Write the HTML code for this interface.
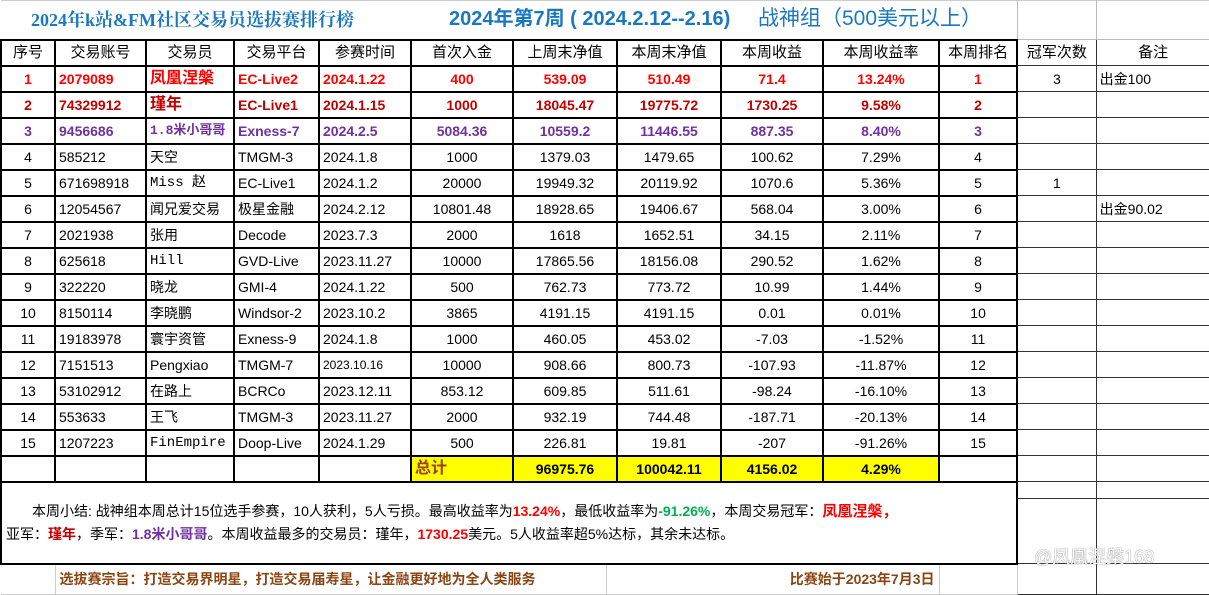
<!DOCTYPE html>
<html><head><meta charset="utf-8">
<style>
*{margin:0;padding:0;box-sizing:border-box}
body{width:1209px;height:595px;background:#fff;overflow:hidden;font-family:"Liberation Sans","Noto Sans CJK SC",sans-serif;font-size:14px;color:#000;position:relative}
table{border-collapse:collapse;table-layout:fixed;position:absolute;left:0;top:0;width:1209px}
td{height:26px;border:2px solid #000;white-space:nowrap;overflow:hidden;padding:0 3px;text-align:center;vertical-align:middle;line-height:20px}
td.l{text-align:left}
td.t{border:1px solid #333}
tr.title td{height:39px;border:none}
tr.title td.t{border:1px solid #bbb;border-top:1px solid #ccc}
.h td{font-size:15px}
.r1 td{color:#f00;font-weight:bold}
.r2 td{color:#c00000;font-weight:bold}
.r3 td{color:#7030a0;font-weight:bold}
.r1 td.t,.r2 td.t,.r3 td.t{color:#000;font-weight:normal}
.nm{font-family:"Liberation Mono","Noto Sans CJK SC",monospace}
.y{background:#ff0;font-weight:bold}
.cj{font-size:16px}
</style></head><body>
<table>
<colgroup><col style="width:54px"><col style="width:91px"><col style="width:88px"><col style="width:85px"><col style="width:92px"><col style="width:102px"><col style="width:104px"><col style="width:104px"><col style="width:102px"><col style="width:116px"><col style="width:78px"><col style="width:79px"><col style="width:114px"></colgroup>
<tr class="title"><td colspan="11" style="border-top:1px solid #ccc;text-align:left;padding:0;color:#1a78c2;font-weight:bold;position:relative">
<span style="position:absolute;left:30px;top:9px;font-family:'Liberation Serif','Noto Serif CJK SC',serif;font-size:18px">2024年k站&amp;FM社区交易员选拔赛排行榜</span>
<span style="position:absolute;left:448px;top:8px;font-size:20px">2024年第7周 ( 2024.2.12--2.16)</span>
<span style="position:absolute;left:757px;top:8px;font-size:21px;font-weight:normal">战神组（500美元以上）</span>
</td><td class="t"></td><td class="t"></td></tr>
<tr class="h"><td>序号</td><td>交易账号</td><td>交易员</td><td>交易平台</td><td>参赛时间</td><td>首次入金</td><td>上周末净值</td><td>本周末净值</td><td>本周收益</td><td>本周收益率</td><td>本周排名</td><td class="t">冠军次数</td><td class="t">备注</td></tr>
<tr class="r1"><td>1</td><td class="l">2079089</td><td class="l cj">凤凰涅槃</td><td class="l">EC-Live2</td><td class="l">2024.1.22</td><td>400</td><td>539.09</td><td>510.49</td><td>71.4</td><td>13.24%</td><td>1</td><td class="t">3</td><td class="t l">出金100</td></tr>
<tr class="r2"><td>2</td><td class="l">74329912</td><td class="l cj">瑾年</td><td class="l">EC-Live1</td><td class="l">2024.1.15</td><td>1000</td><td>18045.47</td><td>19775.72</td><td>1730.25</td><td>9.58%</td><td>2</td><td class="t"></td><td class="t"></td></tr>
<tr class="r3"><td>3</td><td class="l">9456686</td><td class="l nm" style="font-size:13px">1.8米小哥哥</td><td class="l">Exness-7</td><td class="l">2024.2.5</td><td>5084.36</td><td>10559.2</td><td>11446.55</td><td>887.35</td><td>8.40%</td><td>3</td><td class="t"></td><td class="t"></td></tr>
<tr><td>4</td><td class="l">585212</td><td class="l">天空</td><td class="l">TMGM-3</td><td class="l">2024.1.8</td><td>1000</td><td>1379.03</td><td>1479.65</td><td>100.62</td><td>7.29%</td><td>4</td><td class="t"></td><td class="t"></td></tr>
<tr><td>5</td><td class="l">671698918</td><td class="l nm">Miss 赵</td><td class="l">EC-Live1</td><td class="l">2024.1.2</td><td>20000</td><td>19949.32</td><td>20119.92</td><td>1070.6</td><td>5.36%</td><td>5</td><td class="t">1</td><td class="t"></td></tr>
<tr><td>6</td><td class="l">12054567</td><td class="l">闻兄爱交易</td><td class="l">极星金融</td><td class="l">2024.2.12</td><td>10801.48</td><td>18928.65</td><td>19406.67</td><td>568.04</td><td>3.00%</td><td>6</td><td class="t"></td><td class="t l">出金90.02</td></tr>
<tr><td>7</td><td class="l">2021938</td><td class="l">张用</td><td class="l">Decode</td><td class="l">2023.7.3</td><td>2000</td><td>1618</td><td>1652.51</td><td>34.15</td><td>2.11%</td><td>7</td><td class="t"></td><td class="t"></td></tr>
<tr><td>8</td><td class="l">625618</td><td class="l nm">Hill</td><td class="l">GVD-Live</td><td class="l">2023.11.27</td><td>10000</td><td>17865.56</td><td>18156.08</td><td>290.52</td><td>1.62%</td><td>8</td><td class="t"></td><td class="t"></td></tr>
<tr><td>9</td><td class="l">322220</td><td class="l">晓龙</td><td class="l">GMI-4</td><td class="l">2024.1.22</td><td>500</td><td>762.73</td><td>773.72</td><td>10.99</td><td>1.44%</td><td>9</td><td class="t"></td><td class="t"></td></tr>
<tr><td>10</td><td class="l">8150114</td><td class="l">李晓鹏</td><td class="l">Windsor-2</td><td class="l">2023.10.2</td><td>3865</td><td>4191.15</td><td>4191.15</td><td>0.01</td><td>0.01%</td><td>10</td><td class="t"></td><td class="t"></td></tr>
<tr><td>11</td><td class="l">19183978</td><td class="l">寰宇资管</td><td class="l">Exness-9</td><td class="l">2024.1.8</td><td>1000</td><td>460.05</td><td>453.02</td><td>-7.03</td><td>-1.52%</td><td>11</td><td class="t"></td><td class="t"></td></tr>
<tr><td>12</td><td class="l">7151513</td><td class="l">Pengxiao</td><td class="l">TMGM-7</td><td class="l" style="font-size:12px">2023.10.16</td><td>10000</td><td>908.66</td><td>800.73</td><td>-107.93</td><td>-11.87%</td><td>12</td><td class="t"></td><td class="t"></td></tr>
<tr><td>13</td><td class="l">53102912</td><td class="l">在路上</td><td class="l">BCRCo</td><td class="l">2023.12.11</td><td>853.12</td><td>609.85</td><td>511.61</td><td>-98.24</td><td>-16.10%</td><td>13</td><td class="t"></td><td class="t"></td></tr>
<tr><td>14</td><td class="l">553633</td><td class="l">王飞</td><td class="l">TMGM-3</td><td class="l">2023.11.27</td><td>2000</td><td>932.19</td><td>744.48</td><td>-187.71</td><td>-20.13%</td><td>14</td><td class="t"></td><td class="t"></td></tr>
<tr><td>15</td><td class="l">1207223</td><td class="l nm">FinEmpire</td><td class="l">Doop-Live</td><td class="l">2024.1.29</td><td>500</td><td>226.81</td><td>19.81</td><td>-207</td><td>-91.26%</td><td>15</td><td class="t"></td><td class="t"></td></tr>
<tr><td></td><td></td><td></td><td></td><td></td><td class="y l" style="color:#a0401a;font-size:16px;font-weight:bold">总计</td><td class="y">96975.76</td><td class="y">100042.11</td><td class="y">4156.02</td><td class="y">4.29%</td><td></td><td class="t"></td><td class="t"></td></tr>
<tr><td colspan="11" rowspan="2" style="height:82px;text-align:left;padding:0 4px;line-height:22px;white-space:normal;border-bottom:2px solid #000">
<div style="padding-left:26px;white-space:nowrap">本周小结: 战神组本周总计15位选手参赛，10人获利，5人亏损。最高收益率为<b style="color:#f00">13.24%</b>，最低收益率为<b style="color:#00b050">-91.26%</b>，本周交易冠军：<b style="color:#f00;font-size:15px">凤凰涅槃，</b></div>
<div style="white-space:nowrap">亚军：<b style="color:#c00000">瑾年</b>，季军：<b style="color:#7030a0">1.8米小哥哥</b>。本周收益最多的交易员：瑾年，<b style="color:#f00">1730.25</b>美元。5人收益率超5%达标，其余未达标。</div>
</td><td class="t" style="height:17px"></td><td class="t" style="height:17px"></td></tr>
<tr><td class="t" style="height:65px"></td><td class="t" style="height:65px"></td></tr>
<tr><td style="height:31px;border:1px solid #ccc;border-left:none"></td><td colspan="9" style="height:31px;border:1px solid #ccc;padding:0;color:#8b4513;font-weight:bold">
<div style="display:flex;height:29px;align-items:center"><div style="width:551px;text-align:left;padding-left:4px;border-right:1px solid #ccc;height:29px;line-height:29px">选拔赛宗旨：打造交易界明星，打造交易届寿星，让金融更好地为全人类服务</div><div style="flex:1;text-align:right;padding-right:4px">比赛始于2023年7月3日</div></div></td>
<td style="height:31px;border:1px solid #ccc"></td><td class="t" style="height:31px"></td><td class="t" style="height:31px"></td></tr>
</table>
<div style="position:absolute;left:1034px;top:543px;color:#fff;font-size:18px;text-shadow:0 0 1px #888,0 0 1px #888">@凤凰涅槃168</div>
</body></html>
